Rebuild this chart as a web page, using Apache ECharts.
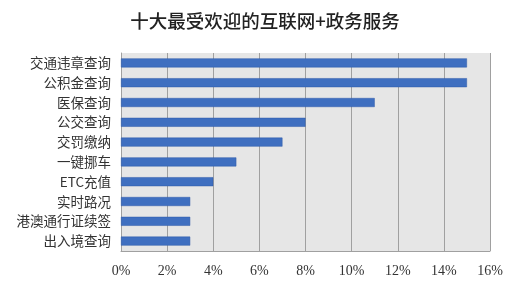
<!DOCTYPE html>
<html><head><meta charset="utf-8">
<script src="https://cdn.jsdelivr.net/npm/echarts@6/dist/echarts.min.js"></script>
<style>html,body{margin:0;padding:0;background:#fff}#c{width:530px;height:294px}</style>
</head><body><div id="c"></div>
<script>
var titleText = '十大最受欢迎的互联网+政务服务';
var categories = ['交通违章查询','公积金查询','医保查询','公交查询','交罚缴纳','一键挪车','ETC充值','实时路况','港澳通行证续签','出入境查询'];
var values = [15, 15, 11, 8, 7, 5, 4, 3, 3, 3];
var xTicks = [0, 2, 4, 6, 8, 10, 12, 14, 16];

var chart = echarts.init(document.getElementById('c'));
chart.setOption({
  animation: false,
  title: {
    text: titleText, left: 'center', top: 7,
    textStyle: {fontFamily: 'Noto Sans CJK SC', fontSize: 18.5, fontWeight: 500, color: '#222'}
  },
  grid: {left: 121, right: 40, top: 53, bottom: 43, show: true, backgroundColor: '#e6e6e6', borderWidth: 0},
  xAxis: {
    type: 'value', min: xTicks[0], max: xTicks[xTicks.length - 1], interval: 2,
    axisLine: {show: true, lineStyle: {color: '#a0a0a0'}},
    axisTick: {show: false},
    splitLine: {show: true, lineStyle: {color: '#a0a0a0', width: 1}},
    axisLabel: {formatter: '{value}%', margin: 13, fontFamily: 'Liberation Serif', fontSize: 14, color: '#333'}
  },
  yAxis: {
    type: 'category', data: categories, inverse: true,
    axisLine: {show: true, lineStyle: {color: '#a0a0a0'}},
    axisTick: {show: false},
    axisLabel: {margin: 10, fontFamily: 'Noto Sans CJK SC', fontSize: 13.5, color: '#333'}
  },
  series: [{
    type: 'bar', data: values, barWidth: 9,
    itemStyle: {color: '#3f6fc0', borderColor: '#2f5aa8', borderWidth: 0.5}
  }]
});
</script></body></html>
